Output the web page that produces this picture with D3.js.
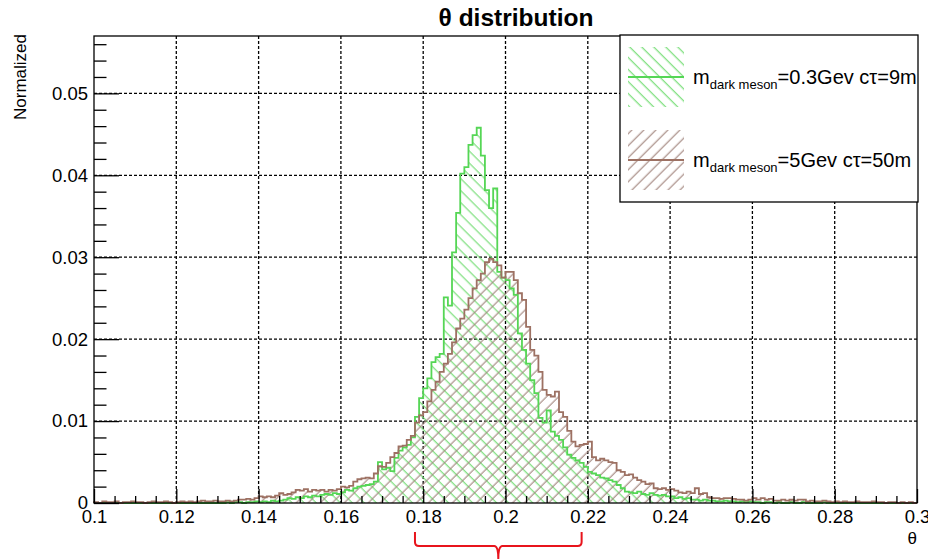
<!DOCTYPE html>
<html>
<head>
<meta charset="utf-8">
<script src="https://cdn.jsdelivr.net/npm/d3@7"></script>
<style>
  body { margin: 0; background: #fff; }
  text { font-family: "Liberation Sans", Arial, sans-serif; }
</style>
</head>
<body>
<div id="chart"></div>
<script>
// histogram binning: 200 bins of 0.001 from 0.1 to 0.3
const binStart = 0.1;
const binWidth = 0.001;

// m_dark meson = 0.3 GeV, ctau = 9 m
const greenCounts = [
  0, 0, 0, 0, 0, 0, 0, 0, 0, 0,
  0, 0, 0, 0, 0, 0, 0, 0, 0, 0,
  0, 0, 0, 0, 0, 0, 0, 0, 0, 0,
  0, 0, 0.0001, 0, 0.0001, 0.0001, 0, 0.0001, 0.0001, 0.0002,
  0.0001, 0.0002, 0.0001, 0.0003, 0.0002, 0.0003, 0.0004, 0.0006, 0.0005, 0.0007,
  0.0006, 0.0008, 0.0007, 0.0009, 0.0008, 0.0010, 0.0011, 0.0010, 0.0012, 0.0011,
  0.0013, 0.0016, 0.0015, 0.0018, 0.0020, 0.0021, 0.0022, 0.0023, 0.0026, 0.0050,
  0.0041, 0.0043, 0.0039, 0.0055, 0.0064, 0.0068, 0.0071, 0.0080, 0.0105, 0.0128,
  0.0140, 0.0152, 0.0172, 0.0178, 0.0182, 0.0251, 0.0241, 0.0306, 0.0354, 0.0402,
  0.0410, 0.0437, 0.0449, 0.0458, 0.0424, 0.0382, 0.0360, 0.0384, 0.0282, 0.0275,
  0.0272, 0.0262, 0.0254, 0.0207, 0.0187, 0.0170, 0.0150, 0.0134, 0.0104, 0.0098,
  0.0113, 0.0087, 0.0082, 0.0077, 0.0068, 0.0059, 0.0055, 0.0052, 0.0049, 0.0044,
  0.0038, 0.0036, 0.0034, 0.0031, 0.0030, 0.0028, 0.0026, 0.0022, 0.0018, 0.0014,
  0.0013, 0.0012, 0.0014, 0.0011, 0.0010, 0.0012, 0.0010, 0.0009, 0.0010, 0.0008,
  0.0008, 0.0006, 0.0007, 0.0005, 0.0006, 0.0004, 0.0004, 0.0003, 0.0004, 0.0003,
  0.0003, 0.0002, 0.0002, 0.0003, 0.0002, 0.0002, 0.0001, 0.0002, 0.0001, 0.0002,
  0.0001, 0.0001, 0, 0.0001, 0.0001, 0, 0.0001, 0, 0, 0.0001,
  0, 0, 0.0001, 0, 0, 0, 0, 0.0001, 0, 0,
  0, 0, 0, 0, 0, 0, 0, 0, 0, 0,
  0, 0, 0, 0, 0, 0, 0, 0, 0, 0
];

// m_dark meson = 5 GeV, ctau = 50 m
const brownCounts = [
  0.0001, 0, 0.0002, 0.0001, 0.0001, 0.0002, 0, 0.0001, 0.0001, 0.0002,
  0.0001, 0.0001, 0, 0.0001, 0.0002, 0.0001, 0.0001, 0.0002, 0.0001, 0,
  0.0001, 0.0002, 0.0001, 0.0002, 0.0001, 0.0002, 0.0003, 0.0002, 0.0002, 0.0003,
  0.0002, 0.0002, 0.0003, 0.0002, 0.0003, 0.0004, 0.0004, 0.0005, 0.0004, 0.0006,
  0.0008, 0.0007, 0.0008, 0.0007, 0.0009, 0.0012, 0.0010, 0.0011, 0.0013, 0.0016,
  0.0015, 0.0017, 0.0014, 0.0016, 0.0015, 0.0016, 0.0014, 0.0016, 0.0015, 0.0017,
  0.0020, 0.0019, 0.0021, 0.0026, 0.0029, 0.0030, 0.0031, 0.0030, 0.0036, 0.0045,
  0.0044, 0.0049, 0.0056, 0.0061, 0.0069, 0.0070, 0.0077, 0.0082, 0.0098, 0.0107,
  0.0111, 0.0124, 0.0138, 0.0148, 0.0160, 0.0170, 0.0182, 0.0196, 0.0213, 0.0225,
  0.0236, 0.0250, 0.0262, 0.0272, 0.0280, 0.0294, 0.0298, 0.0294, 0.0290, 0.0275,
  0.0282, 0.0282, 0.0272, 0.0256, 0.0248, 0.0215, 0.0187, 0.0180, 0.0160, 0.0138,
  0.0132, 0.0130, 0.0136, 0.0111, 0.0105, 0.0088, 0.0075, 0.0069, 0.0071, 0.0072,
  0.0075, 0.0056, 0.0052, 0.0054, 0.0052, 0.0050, 0.0049, 0.0040, 0.0038, 0.0034,
  0.0035, 0.0031, 0.0028, 0.0026, 0.0023, 0.0024, 0.0018, 0.0017, 0.0018, 0.0016,
  0.0017, 0.0015, 0.0013, 0.0012, 0.0014, 0.0012, 0.0018, 0.0011, 0.0012, 0.0007,
  0.0006, 0.0006, 0.0005, 0.0006, 0.0006, 0.0005, 0.0004, 0.0004, 0.0003, 0.0004,
  0.0006, 0.0004, 0.0006, 0.0004, 0.0005, 0.0003, 0.0003, 0.0004, 0.0003, 0.0004,
  0.0003, 0.0004, 0.0004, 0.0002, 0.0003, 0.0002, 0.0002, 0.0003, 0.0002, 0.0001,
  0.0002, 0.0001, 0.0002, 0.0001, 0.0001, 0.0002, 0.0001, 0.0001, 0.0001, 0.0002,
  0.0001, 0.0001, 0, 0.0001, 0.0001, 0, 0.0001, 0, 0.0001, 0
];

const xTicks = [0.1, 0.12, 0.14, 0.16, 0.18, 0.2, 0.22, 0.24, 0.26, 0.28, 0.3];
const yTicks = [0, 0.01, 0.02, 0.03, 0.04, 0.05];
const legendLabels = [
  { sub: "dark meson", main: "m", rest: "=0.3Gev c\u03c4=9m" },
  { sub: "dark meson", main: "m", rest: "=5Gev c\u03c4=50m" }
];
// red brace under the axis (theta range)
const braceRange = [0.178, 0.2185];

const width = 928, height = 559;
const frame = { left: 94, right: 917, top: 36, bottom: 503 };

const svg = d3.select("#chart").append("svg")
  .attr("width", width)
  .attr("height", height);

const x = d3.scaleLinear().domain([0.1, 0.3]).range([frame.left, frame.right]);
const y = d3.scaleLinear().domain([0, 0.057]).range([frame.bottom, frame.top]);

const fmt = d => String(+d.toFixed(3));

// hatch patterns
const defs = svg.append("defs");
function hatch(id, angle, color) {
  const p = defs.append("pattern")
    .attr("id", id)
    .attr("patternUnits", "userSpaceOnUse")
    .attr("width", 8.5)
    .attr("height", 8.5)
    .attr("patternTransform", `rotate(${angle})`);
  p.append("line")
    .attr("x1", 4).attr("y1", 0)
    .attr("x2", 4).attr("y2", 8.5)
    .attr("stroke", color)
    .attr("stroke-width", 1.1);
}
hatch("hatchGreen", -45, "#6fdc6f");
hatch("hatchBrown", 45, "#a0827a");

// grid
const grid = svg.append("g");
grid.selectAll("line.gx")
  .data(xTicks.slice(1, -1))
  .enter().append("line")
  .attr("x1", d => x(d)).attr("x2", d => x(d))
  .attr("y1", frame.top).attr("y2", frame.bottom)
  .attr("stroke", "#000").attr("stroke-width", 1.3).attr("stroke-dasharray", "3,2");
grid.selectAll("line.gy")
  .data(yTicks.slice(1))
  .enter().append("line")
  .attr("x1", frame.left).attr("x2", frame.right)
  .attr("y1", d => y(d)).attr("y2", d => y(d))
  .attr("stroke", "#000").attr("stroke-width", 1.3).attr("stroke-dasharray", "3,2");

// histograms
function stepPoints(counts) {
  const pts = [[binStart, 0]];
  counts.forEach((v, i) => pts.push([binStart + i * binWidth, v]));
  pts.push([binStart + counts.length * binWidth, counts[counts.length - 1]]);
  pts.push([binStart + counts.length * binWidth, 0]);
  return pts;
}
const line = d3.line()
  .x(d => x(d[0]))
  .y(d => y(d[1]))
  .curve(d3.curveStepAfter);

const series = [
  { counts: greenCounts, stroke: "#55d655", fill: "url(#hatchGreen)" },
  { counts: brownCounts, stroke: "#9d7163", fill: "url(#hatchBrown)" }
];

series.forEach(s => {
  svg.append("path")
    .attr("d", line(stepPoints(s.counts)))
    .attr("fill", s.fill)
    .attr("stroke", "none");
});
series.forEach(s => {
  svg.append("path")
    .attr("d", line(stepPoints(s.counts)))
    .attr("fill", "none")
    .attr("stroke", s.stroke)
    .attr("stroke-width", 1.8);
});

// axes (ROOT style ticks pointing inside)
const yMinor = d3.range(0.002, 0.057, 0.002).filter(v => Math.abs(v * 100 - Math.round(v * 100)) > 1e-6);
const xMinor = d3.range(0.105, 0.3, 0.005).filter(v => Math.abs(v * 50 - Math.round(v * 50)) > 1e-6);

const yAxis = svg.append("g")
  .attr("transform", `translate(${frame.left},0)`)
  .call(d3.axisLeft(y).tickValues(yTicks).tickSize(-25).tickPadding(6).tickFormat(fmt));
svg.append("g")
  .attr("transform", `translate(${frame.left},0)`)
  .call(d3.axisLeft(y).tickValues(yMinor).tickSize(-12.5).tickFormat(""))
  .call(g => g.select(".domain").remove());

const xAxis = svg.append("g")
  .attr("transform", `translate(0,${frame.bottom})`)
  .call(d3.axisBottom(x).tickValues(xTicks).tickSize(-14).tickPadding(7).tickFormat(fmt));
svg.append("g")
  .attr("transform", `translate(0,${frame.bottom})`)
  .call(d3.axisBottom(x).tickValues(xMinor).tickSize(-7).tickFormat(""))
  .call(g => g.select(".domain").remove());

svg.selectAll(".tick line").attr("stroke", "#000").attr("stroke-width", 1.3);
svg.selectAll(".domain").attr("stroke", "none");
yAxis.selectAll("text").attr("font-size", "18.5px").attr("fill", "#000")
  .style("font-family", "'Liberation Sans', Arial, sans-serif");
xAxis.selectAll("text").attr("font-size", "18.5px").attr("fill", "#000")
  .style("font-family", "'Liberation Sans', Arial, sans-serif");

// frame
svg.append("rect")
  .attr("x", frame.left).attr("y", frame.top)
  .attr("width", frame.right - frame.left)
  .attr("height", frame.bottom - frame.top)
  .attr("fill", "none")
  .attr("stroke", "#000")
  .attr("stroke-width", 1.3);

// titles
svg.append("text")
  .attr("x", 516).attr("y", 26)
  .attr("text-anchor", "middle")
  .attr("font-size", "24.5px")
  .attr("font-weight", "bold")
  .text("\u03b8 distribution");

svg.append("text")
  .attr("transform", `translate(26,34) rotate(-90)`)
  .attr("text-anchor", "end")
  .attr("font-size", "17px")
  .text("Normalized");

svg.append("text")
  .attr("x", 917).attr("y", 544)
  .attr("text-anchor", "end")
  .attr("font-size", "17px")
  .text("\u03b8");

// legend
const legend = svg.append("g");
legend.append("rect")
  .attr("x", 620).attr("y", 35)
  .attr("width", 298).attr("height", 167)
  .attr("fill", "#fff")
  .attr("stroke", "#000")
  .attr("stroke-width", 1.3);

const rows = legend.selectAll("g.row")
  .data(series.map((s, i) => ({ ...s, label: legendLabels[i] })))
  .enter().append("g")
  .attr("class", "row")
  .attr("transform", (d, i) => `translate(0,${i * 83})`);

rows.append("rect")
  .attr("x", 628).attr("y", 47)
  .attr("width", 56).attr("height", 60)
  .attr("fill", d => d.fill);
rows.append("line")
  .attr("x1", 628).attr("x2", 684)
  .attr("y1", 77).attr("y2", 77)
  .attr("stroke", d => d.stroke)
  .attr("stroke-width", 2);

const lt = rows.append("text")
  .attr("x", 693).attr("y", 84)
  .attr("font-size", "20px");
lt.append("tspan").text(d => d.label.main);
lt.append("tspan").attr("font-size", "13px").attr("dy", 5).text(d => d.label.sub);
lt.append("tspan").attr("dy", -5).text(d => d.label.rest);

// brace
const bx0 = x(braceRange[0]), bx1 = x(braceRange[1]);
const bm = (bx0 + bx1) / 2;
const bTop = 532, bMid = 546, bTip = 559;
const brace = d3.path();
brace.moveTo(bx0, bTop);
brace.lineTo(bx0, bMid - 4);
brace.quadraticCurveTo(bx0, bMid, bx0 + 4, bMid);
brace.lineTo(bm - 4, bMid);
brace.quadraticCurveTo(bm, bMid, bm, bTip);
brace.moveTo(bm, bTip);
brace.quadraticCurveTo(bm, bMid, bm + 4, bMid);
brace.lineTo(bx1 - 4, bMid);
brace.quadraticCurveTo(bx1, bMid, bx1, bMid - 4);
brace.lineTo(bx1, bTop);
svg.append("path")
  .attr("d", brace.toString())
  .attr("fill", "none")
  .attr("stroke", "#e8141c")
  .attr("stroke-width", 2);
</script>
</body>
</html>
